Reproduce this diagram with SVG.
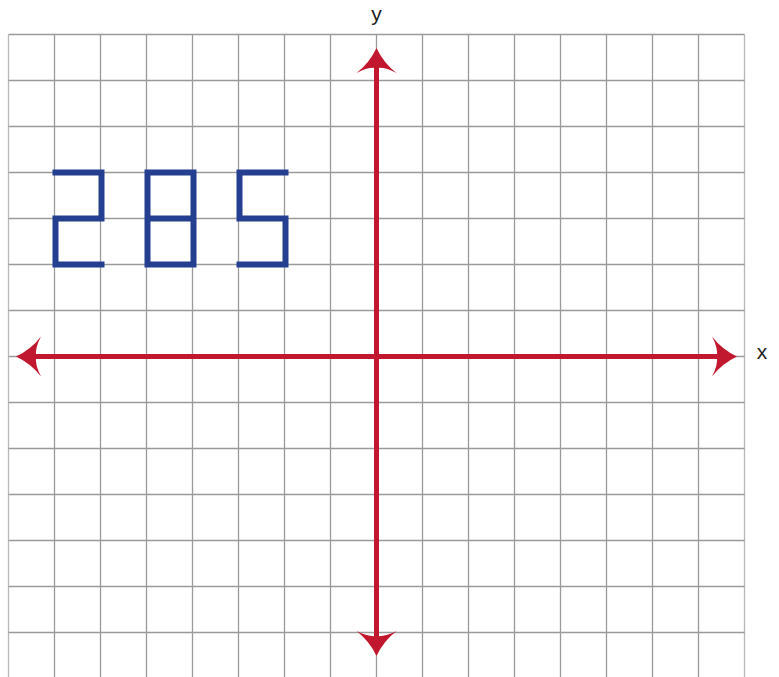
<svg xmlns="http://www.w3.org/2000/svg" xmlns:xlink="http://www.w3.org/1999/xlink" width="779" height="677" viewBox="0 0 779 677">
  <style>
    .grid line { stroke: #9a9a9a; stroke-width: 1.3; }
    .axis { stroke: #c1182f; stroke-width: 5; fill: none; }
    .head { fill: #c1182f; }
    .digit { stroke: #243f8f; stroke-width: 6; fill: none; stroke-linecap: square; stroke-linejoin: miter; }
    .lbl { font-family: "Liberation Sans", Arial, sans-serif; font-size: 21px; fill: #231f20; text-anchor: middle; }
  </style>
  <defs>
    <path id="ah" d="M0 0 Q7 15 20 25 Q9 19 0 20 Q-9 19 -20 25 Q-7 15 0 0 Z"/>
  </defs>
  <rect width="779" height="677" fill="#ffffff"/>
  <g id="grid" class="grid">
    <line x1="8.5" y1="34.5" x2="8.5" y2="677" style="stroke:#b8b8b8"/>
    <line x1="54.5" y1="34.5" x2="54.5" y2="677"/>
    <line x1="100.5" y1="34.5" x2="100.5" y2="677"/>
    <line x1="146.5" y1="34.5" x2="146.5" y2="677"/>
    <line x1="192.5" y1="34.5" x2="192.5" y2="677"/>
    <line x1="238.5" y1="34.5" x2="238.5" y2="677"/>
    <line x1="284.5" y1="34.5" x2="284.5" y2="677"/>
    <line x1="330.5" y1="34.5" x2="330.5" y2="677"/>
    <line x1="376.5" y1="34.5" x2="376.5" y2="677"/>
    <line x1="422.5" y1="34.5" x2="422.5" y2="677"/>
    <line x1="468.5" y1="34.5" x2="468.5" y2="677"/>
    <line x1="514.5" y1="34.5" x2="514.5" y2="677"/>
    <line x1="560.5" y1="34.5" x2="560.5" y2="677"/>
    <line x1="606.5" y1="34.5" x2="606.5" y2="677"/>
    <line x1="652.5" y1="34.5" x2="652.5" y2="677"/>
    <line x1="698.5" y1="34.5" x2="698.5" y2="677"/>
    <line x1="744.5" y1="34.5" x2="744.5" y2="677" style="stroke:#b8b8b8"/>
    <line x1="8.5" y1="34.5" x2="744.5" y2="34.5"/>
    <line x1="8.5" y1="80.5" x2="744.5" y2="80.5"/>
    <line x1="8.5" y1="126.5" x2="744.5" y2="126.5"/>
    <line x1="8.5" y1="172.5" x2="744.5" y2="172.5"/>
    <line x1="8.5" y1="218.5" x2="744.5" y2="218.5"/>
    <line x1="8.5" y1="264.5" x2="744.5" y2="264.5"/>
    <line x1="8.5" y1="310.5" x2="744.5" y2="310.5"/>
    <line x1="8.5" y1="356.5" x2="744.5" y2="356.5"/>
    <line x1="8.5" y1="402.5" x2="744.5" y2="402.5"/>
    <line x1="8.5" y1="448.5" x2="744.5" y2="448.5"/>
    <line x1="8.5" y1="494.5" x2="744.5" y2="494.5"/>
    <line x1="8.5" y1="540.5" x2="744.5" y2="540.5"/>
    <line x1="8.5" y1="586.5" x2="744.5" y2="586.5"/>
    <line x1="8.5" y1="632.5" x2="744.5" y2="632.5"/>
  </g>
  <g id="connectors">
    <g id="x-axis">
      <line class="axis" x1="30" y1="356.5" x2="722" y2="356.5"/>
      <use xlink:href="#ah" href="#ah" class="head" transform="translate(737 356.5) rotate(90)"/>
      <use xlink:href="#ah" href="#ah" class="head" transform="translate(16 356.5) rotate(-90)"/>
    </g>
    <g id="y-axis">
      <line class="axis" x1="376.5" y1="62" x2="376.5" y2="642"/>
      <use xlink:href="#ah" href="#ah" class="head" transform="translate(376.5 48)"/>
      <use xlink:href="#ah" href="#ah" class="head" transform="translate(376.5 656) rotate(180)"/>
    </g>
  </g>
  <g id="digit-2">
    <path class="digit" d="M55.5 172.5 H101.5 V218.5 H55.5 V264.5 H101.5"/>
  </g>
  <g id="digit-8">
    <path class="digit" d="M147.5 172.5 H193.5 V264.5 H147.5 Z M147.5 218.5 H193.5"/>
  </g>
  <g id="digit-5">
    <path class="digit" d="M285.5 172.5 H239.5 V218.5 H285.5 V264.5 H239.5"/>
  </g>
  <g id="labels">
    <text class="lbl" x="376.5" y="20.5">y</text>
    <text class="lbl" x="762" y="359">x</text>
  </g>
</svg>
